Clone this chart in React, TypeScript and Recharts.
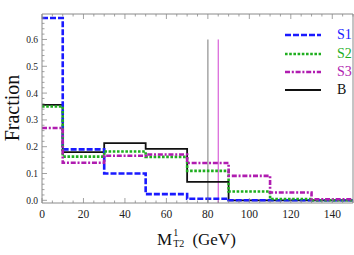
import { LineChart, Line, XAxis, YAxis, ReferenceLine } from "recharts";

// bin edges (GeV) and the fraction in each bin
const binEdges = [0, 10, 30, 50, 70, 90, 110, 130, 150];
const s1 = [0.68, 0.19, 0.1, 0.023, 0.006, 0, 0, 0];
const s2 = [0.35, 0.163, 0.182, 0.162, 0.11, 0.033, 0.005, 0];
const s3 = [0.27, 0.14, 0.166, 0.171, 0.139, 0.091, 0.029, 0.004];
const bkg = [0.356, 0.18, 0.213, 0.192, 0.069, 0, 0, 0];

const markerX = [80, 85];
const markerTop = 0.6;

const xMajor = [0, 20, 40, 60, 80, 100, 120, 140];
const xTicks = Array.from({ length: 31 }, (_, i) => i * 5);
const yTicks = Array.from({ length: 35 }, (_, i) => +(i * 0.02).toFixed(2));

const series = [
  { key: "B", values: bkg, color: "#111111", width: 1.8, dash: undefined as string | undefined },
  { key: "S1", values: s1, color: "#1a1aff", width: 2.6, dash: "6 2" },
  { key: "S2", values: s2, color: "#1fae1f", width: 2.6, dash: "2.6 1.6" },
  { key: "S3", values: s3, color: "#b01cb0", width: 2.6, dash: "5 1.8 2 1.8" },
];

// step table: last edge repeats the last bin value
const data = binEdges.map((x, i) => {
  const row: Record<string, number> = { x };
  series.forEach((s) => {
    row[s.key] = s.values[Math.min(i, s.values.length - 1)];
  });
  return row;
});

const serif = "'Liberation Serif', 'DejaVu Serif', serif";
const frame = "#8a8a8a";

const isMajor = (v: number, step: number) =>
  Math.abs(v / step - Math.round(v / step)) < 1e-6;

function XTick(props: any) {
  const { x, y, payload, side } = props;
  const v = payload.value;
  const major = xMajor.includes(v);
  const len = major ? 5 : 2.5;
  const dir = side === "top" ? 1 : -1;
  return (
    <g>
      <line x1={x} x2={x} y1={y} y2={y + dir * len} stroke={frame} strokeWidth={0.8} />
      {side === "bottom" && major && (
        <text x={x} y={y + 15} textAnchor="middle" fontFamily={serif} fontSize={11.5} fill="#222">
          {v}
        </text>
      )}
    </g>
  );
}

function YTick(props: any) {
  const { x, y, payload, side } = props;
  const v = payload.value;
  const major = isMajor(v, 0.1);
  const len = major ? 5 : 2.5;
  const dir = side === "left" ? 1 : -1;
  return (
    <g>
      <line x1={x} x2={x + dir * len} y1={y} y2={y} stroke={frame} strokeWidth={0.8} />
      {side === "left" && major && (
        <text x={x - 4} y={y + 3.5} textAnchor="end" fontFamily={serif} fontSize={9.5} fill="#222">
          {v.toFixed(1)}
        </text>
      )}
    </g>
  );
}

function LegendBox() {
  return (
    <div style={{ position: "absolute", left: 285, top: 26, fontFamily: serif, fontSize: 14 }}>
      {[series[1], series[2], series[3], series[0]].map((s) => (
        <div key={s.key} style={{ display: "flex", alignItems: "center", height: 18.4 }}>
          <svg width={38} height={8}>
            <line x1={0} x2={36} y1={4} y2={4} stroke={s.color} strokeWidth={s.width} strokeDasharray={s.dash} />
          </svg>
          <span style={{ marginLeft: 14, color: s.key === "B" ? "#111" : s.color, lineHeight: "14px" }}>
            {s.key}
          </span>
        </div>
      ))}
    </div>
  );
}

export default function App() {
  return (
    <div style={{ position: "absolute", left: 0, top: 0, width: 354, height: 255, background: "#fff" }}>
      <LineChart width={354} height={255} data={data} margin={{ top: 13, right: 0, bottom: 32, left: 12 }}>
        <XAxis
          xAxisId="x"
          dataKey="x"
          type="number"
          domain={[0, 150]}
          ticks={xTicks}
          interval={0}
          height={20}
          tickSize={0}
          tickMargin={0}
          tickLine={false}
          axisLine={{ stroke: frame }}
          tick={(p: any) => <XTick {...p} side="bottom" />}
        />
        <XAxis
          xAxisId="xt"
          orientation="top"
          dataKey="x"
          type="number"
          domain={[0, 150]}
          ticks={xTicks}
          interval={0}
          height={1}
          tickSize={0}
          tickMargin={0}
          tickLine={false}
          axisLine={{ stroke: frame }}
          tick={(p: any) => <XTick {...p} side="top" />}
        />
        <YAxis
          yAxisId="y"
          type="number"
          domain={[-0.01, 0.695]}
          ticks={yTicks}
          interval={0}
          width={30}
          tickSize={0}
          tickMargin={0}
          tickLine={false}
          axisLine={{ stroke: frame }}
          tick={(p: any) => <YTick {...p} side="left" />}
        />
        <YAxis
          yAxisId="yr"
          orientation="right"
          type="number"
          domain={[-0.01, 0.695]}
          ticks={yTicks}
          interval={0}
          width={1}
          tickSize={0}
          tickMargin={0}
          tickLine={false}
          axisLine={{ stroke: frame }}
          tick={(p: any) => <YTick {...p} side="right" />}
        />
        {markerX.map((mx, i) => (
          <ReferenceLine
            key={mx}
            xAxisId="x"
            yAxisId="y"
            segment={[
              { x: mx, y: -0.01 },
              { x: mx, y: markerTop },
            ]}
            stroke={i === 0 ? "#a0a0a0" : "#d040d0"}
            strokeWidth={i === 0 ? 1.4 : 1}
          />
        ))}
        {series.map((s) => (
          <Line
            key={s.key}
            xAxisId="x"
            yAxisId="y"
            type="stepAfter"
            dataKey={s.key}
            stroke={s.color}
            strokeWidth={s.width}
            strokeDasharray={s.dash}
            dot={false}
            isAnimationActive={false}
          />
        ))}
      </LineChart>
      <LegendBox />
      <div
        style={{
          position: "absolute",
          left: 12,
          top: 108,
          transform: "translate(-50%, -50%) rotate(-90deg)",
          fontFamily: serif,
          fontSize: 20,
          whiteSpace: "nowrap",
          color: "#111",
        }}
      >
        Fraction
      </div>
      <div
        style={{
          position: "absolute",
          left: 157,
          top: 230,
          fontFamily: serif,
          fontSize: 17,
          whiteSpace: "nowrap",
          color: "#111",
        }}
      >
        M
        <span style={{ display: "inline-block", position: "relative", width: 16, height: 10 }}>
          <span style={{ position: "absolute", left: 1, top: -7, fontSize: 10, lineHeight: "10px" }}>1</span>
          <span style={{ position: "absolute", left: 1, top: 4, fontSize: 10, lineHeight: "10px" }}>T2</span>
        </span>{" "}
        (GeV)
      </div>
    </div>
  );
}
